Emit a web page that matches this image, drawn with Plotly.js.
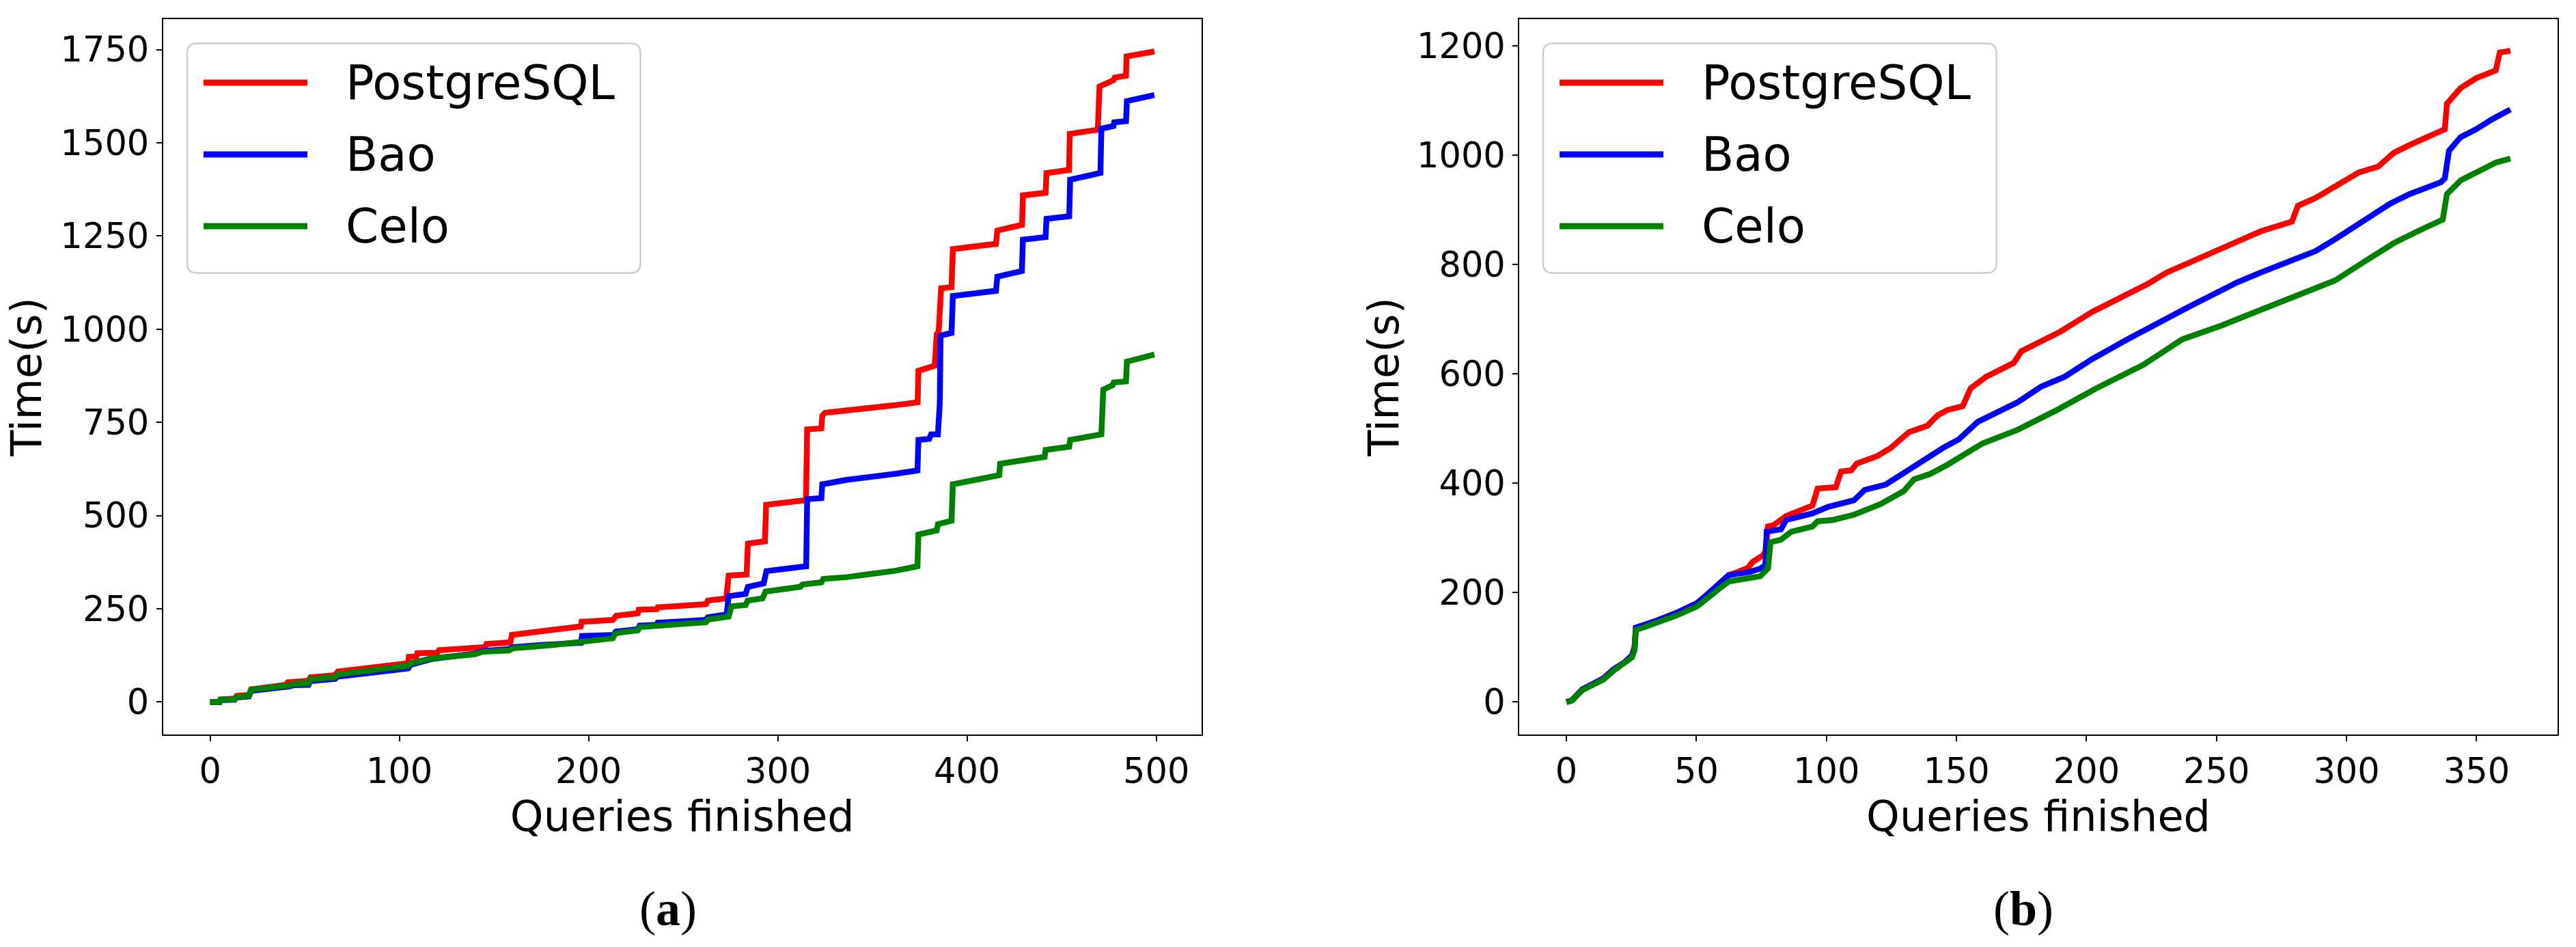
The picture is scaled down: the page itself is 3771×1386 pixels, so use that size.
<!DOCTYPE html>
<html>
<head>
<meta charset="utf-8">
<script src="https://cdn.plot.ly/plotly-3.0.1.min.js"></script>
<style>html,body{margin:0;padding:0;background:#fff;}#chart{width:3771px;height:1386px;}</style>
</head>
<body>
<div id="chart"></div>
<script>
// ---------- DATA ----------
const seriesNames = ['PostgreSQL', 'Bao', 'Celo'];
const panelLabels = ['a', 'b'];
const xTitle = 'Queries finished';
const yTitle = 'Time(s)';

// Panel (a): 500 queries
const a_pg_x  = [0,5,5.5,13,14,20.5,21.7,30,40,41,52,53,66,67.5,85,104.6,105,109,109.5,120,121,145.5,146,158.7,159.5,174.3,195.9,196.3,212.8,214.5,226,226.5,236,236.5,262,263,272.8,274,283.5,284.2,293.2,293.8,314.9,315.5,323,323.5,325,361.8,373.9,374.3,382.9,384,385,386.3,391.8,392.5,415.3,416,429.1,429.5,441.5,442,453.9,454.3,469.1,470,477.4,478,484,484.3,499];
const a_pg_y  = [0,0,7,9,16,19,34,38,46,53,57,66,72,81.7,92,104,121,122,131,132,139,147.5,155.7,160,180,189,203,215,220,231,238,247.5,249,254,262.5,272,278,339,342,425,431,529,541.6,731,734,768,776,796,804,888.6,902,987,992,1110,1113,1215,1229,1264.5,1280,1359,1366,1419,1427,1524,1535,1651,1668,1675,1680,1731.6,1745];

const a_bao_x = [0,5,5.5,13,14,20.5,21.7,30,42,44,52,53,66,67.5,85,103,104.6,106,115,117,140,144,158,160,175,196,196.5,213,214.5,226,227,236,236.5,262,263,273,274,283,284.2,292.5,294,315,315.5,323,323.5,336.5,362,373.8,374.3,380,381,384.6,385.6,386,391.8,392.5,415.3,416,429,429.5,441.5,442,454,454.5,470.5,471,477.4,477.8,484,484.5,499];
const a_bao_y = [0,0,5,6,12,15,30,34,42,45,46,56,62,68,78,88,90,100,110,115,130,137,142,147,153,159,177,180,189,195,205,207,212.6,220,227,235,284,290,309,318,351,364,544,547,584,596,612,621,703,706,718,718,801,983,990,1089,1103,1141,1156,1240,1247,1296,1303,1401,1419,1538,1545,1555,1558,1612,1628];

const a_celo_x = [0,5,5.5,13,14,20.5,21.7,30,42,44,52,53,66,67.5,85,104.6,106,115,117,140,144,158,160,181,212.8,214,216,226,227,262,263,274,275.5,283,284,292,293.5,312,313,323,324,336.5,362,373.8,374.3,384,384.6,391.8,392.5,417,417.5,441,441.5,454,454.5,471,472,477,477.5,484,484.5,499];
const a_celo_y = [0,0,6,7,14,17,33,37,45,49,50,61,67,74.3,86,97.6,104,112,117,128,135,138,144,153,171,183,186,192,201,214,221,229,256.6,260,272,278,296,309,315,321,330,335,352,364,449,460.5,477,486,584,608.5,639,657.5,676,685,703,718,838,850,857,860,913,932];

// Panel (b): 364 queries
const b_pg_x  = [0,2.1,6.1,10.1,14.2,18.2,22.2,25.2,26.2,26.7,30,34.3,42.3,50.3,54,58.4,62.4,66,70,71.5,75.5,76.5,77.5,79.5,84.5,94.6,96.6,103.6,105.6,109.6,111.6,119.7,124.7,131.7,138.8,142.8,146.4,152.4,155.4,161.4,172,175,190,202.2,214.2,223.3,230.8,245.9,257.9,267,279,281.3,288.1,295.6,304.7,312.2,318.2,324.3,334.8,337.8,338.6,343.9,349.9,357.4,358.9,363];
const b_pg_y  = [0,3,23,33,43,60,72,85,100,136,141,148,163,181,196,214,232,238,246,256,268,275,321,323,340,359.4,390.5,392.9,421.6,424,436,450.3,464.7,493.5,505.5,524.6,534,541.3,573.6,595,620.3,641.8,677.7,713.6,742.4,764,785.5,817.9,843,861,878.9,907.6,922,943.5,968.7,979.5,1004.6,1019,1040.6,1047.8,1094.5,1123.2,1141.2,1155.6,1187.9,1191.5];

const b_bao_x = [0,2.1,6.1,10.1,14.2,18.2,22.2,25.2,26.2,26.7,30,34.3,42.3,50.3,54,58.4,62.4,70.5,74.5,76.5,77,82.5,84.5,94.6,100.6,110.6,114.7,122.7,130.7,138.8,144.8,150.8,158.2,173.6,182.6,191.6,202.2,215.7,228,240,249,257.9,267,276,288.1,295.6,306.2,316.7,324.3,336.3,337.8,339.4,343.9,349.9,355.9,363];
const b_bao_y = [0,3,23,33,43,60,72,85,100,136,141,148,163,181,196,214,232,238,244,250,311.5,316,333,345,357,369,388,397.6,421.6,448,464.7,480,512.5,548.4,577,595,627.4,663.3,695.7,724.4,746,767.6,785.5,803.5,825,846.6,878.9,911.3,929.2,950.8,958,1008.3,1033.4,1047.8,1065.7,1083.7];

const b_celo_x = [0,2.1,6.1,10.1,14.2,18.2,22.2,25.2,26.2,26.7,30,34.3,42.3,50.3,54,58.4,62.4,70.5,74.5,77.5,78.5,82.5,86.5,94.6,96.6,102.6,110.6,120.7,129.7,133.7,139.8,146.4,160,173.6,188.6,203.7,221.8,236.8,251.9,267,282,295.6,306.2,318.2,327.3,337,338.6,343.9,351.4,357.4,363];
const b_celo_y = [0,2.5,21.7,31.3,40.8,57.6,69.6,81.6,95,131.8,137,143.8,158.2,175,190,206,220.4,227.6,230,244.4,292.2,297,311.5,321,330.6,333,342.6,361.7,385.7,407.3,416.9,433.6,473,498.1,534,573.6,616.7,663.3,688.5,717.3,746,771.1,803.5,839.4,861,882.5,929.2,954.3,972.3,986.7,993.9];

// ---------- STYLE ----------
const W = 3771, H = 1386;
const colors = ['#ff0000', '#0000ff', '#008000'];
const FONT = 'DejaVu Sans';
const px = x => x / W;
const py = y => 1 - y / H;

const panels = [
  {xs: [a_pg_x, a_bao_x, a_celo_x], ys: [a_pg_y, a_bao_y, a_celo_y], xa: 'x', ya: 'y'},
  {xs: [b_pg_x, b_bao_x, b_celo_x], ys: [b_pg_y, b_bao_y, b_celo_y], xa: 'x2', ya: 'y2'}
];

const traces = [];
panels.forEach(p => {
  for (let i = 0; i < 3; i++) {
    traces.push({
      type: 'scatter', mode: 'lines', name: seriesNames[i],
      x: p.xs[i], y: p.ys[i], xaxis: p.xa, yaxis: p.ya,
      line: {color: colors[i], width: 8.5}, showlegend: false, hoverinfo: 'skip'
    });
  }
});

function axisBase(extra) {
  return Object.assign({
    showgrid: false, zeroline: false, showline: true, mirror: true,
    linecolor: '#000', linewidth: 2, ticks: 'outside', ticklen: 8, tickwidth: 2,
    tickcolor: '#000', tickmode: 'linear', tick0: 0, automargin: false,
    tickfont: {family: FONT, size: 51, color: '#000'}
  }, extra);
}

const yTop = 27.7, yBot = 1075;
const layout = {
  width: W, height: H, margin: {l: 0, r: 0, t: 0, b: 0},
  paper_bgcolor: '#fff', plot_bgcolor: '#fff', showlegend: false,
  font: {family: FONT, color: '#000'},
  xaxis: axisBase({domain: [px(238.5), px(1759)], range: [-24.95, 523.95], dtick: 100, anchor: 'y',
    title: {text: xTitle, font: {family: FONT, size: 62, color: '#000'}, standoff: 0}}),
  yaxis: axisBase({domain: [py(yBot), py(yTop)], range: [-87.25, 1832.25], dtick: 250, anchor: 'x',
    title: {text: yTitle, font: {family: FONT, size: 62, color: '#000'}, standoff: 8}}),
  xaxis2: axisBase({domain: [px(2224), px(3744)], range: [-18.15, 381.15], dtick: 50, anchor: 'y2',
    title: {text: xTitle, font: {family: FONT, size: 62, color: '#000'}, standoff: 0}}),
  yaxis2: axisBase({domain: [py(yBot), py(yTop)], range: [-59.5, 1249.5], dtick: 200, anchor: 'x2',
    title: {text: yTitle, font: {family: FONT, size: 62, color: '#000'}, standoff: 6}}),
  shapes: [], annotations: []
};

// custom legends (matplotlib-like, long line samples, rounded frame)
function roundedRect(x0, y0, x1, y1, r) {
  const P = (x, y) => px(x) + ',' + py(y);
  return 'M' + P(x0 + r, y0) + ' L' + P(x1 - r, y0) + ' Q' + P(x1, y0) + ' ' + P(x1, y0 + r) +
    ' L' + P(x1, y1 - r) + ' Q' + P(x1, y1) + ' ' + P(x1 - r, y1) +
    ' L' + P(x0 + r, y1) + ' Q' + P(x0, y1) + ' ' + P(x0, y1 - r) +
    ' L' + P(x0, y0 + r) + ' Q' + P(x0, y0) + ' ' + P(x0 + r, y0) + ' Z';
}
const legendLefts = [274, 2259];
const legendRowY = [121, 226, 331];
legendLefts.forEach(L => {
  layout.shapes.push({type: 'path', xref: 'paper', yref: 'paper',
    path: roundedRect(L, 63.4, L + 663.5, 399.5, 14),
    line: {color: '#cccccc', width: 2.5}, fillcolor: 'rgba(255,255,255,0.8)', layer: 'above'});
  for (let i = 0; i < 3; i++) {
    layout.shapes.push({type: 'line', xref: 'paper', yref: 'paper',
      x0: px(L + 24), x1: px(L + 176), y0: py(legendRowY[i]), y1: py(legendRowY[i]),
      line: {color: colors[i], width: 9}, layer: 'above'});
    layout.annotations.push({xref: 'paper', yref: 'paper', x: px(L + 230), y: py(legendRowY[i]),
      xanchor: 'left', yanchor: 'middle', showarrow: false, text: seriesNames[i],
      font: {family: FONT, size: 69, color: '#000'}});
  }
});

// sub-figure captions
const capX = [978, 2962];
panelLabels.forEach((lab, k) => {
  layout.annotations.push({xref: 'paper', yref: 'paper', x: px(capX[k]), y: py(1330),
    xanchor: 'center', yanchor: 'middle', showarrow: false,
    text: '(<b>' + lab + '</b>)', font: {family: 'Liberation Serif', size: 72, color: '#000'}});
});

Plotly.newPlot('chart', traces, layout, {staticPlot: true, displayModeBar: false});
</script>
</body>
</html>
